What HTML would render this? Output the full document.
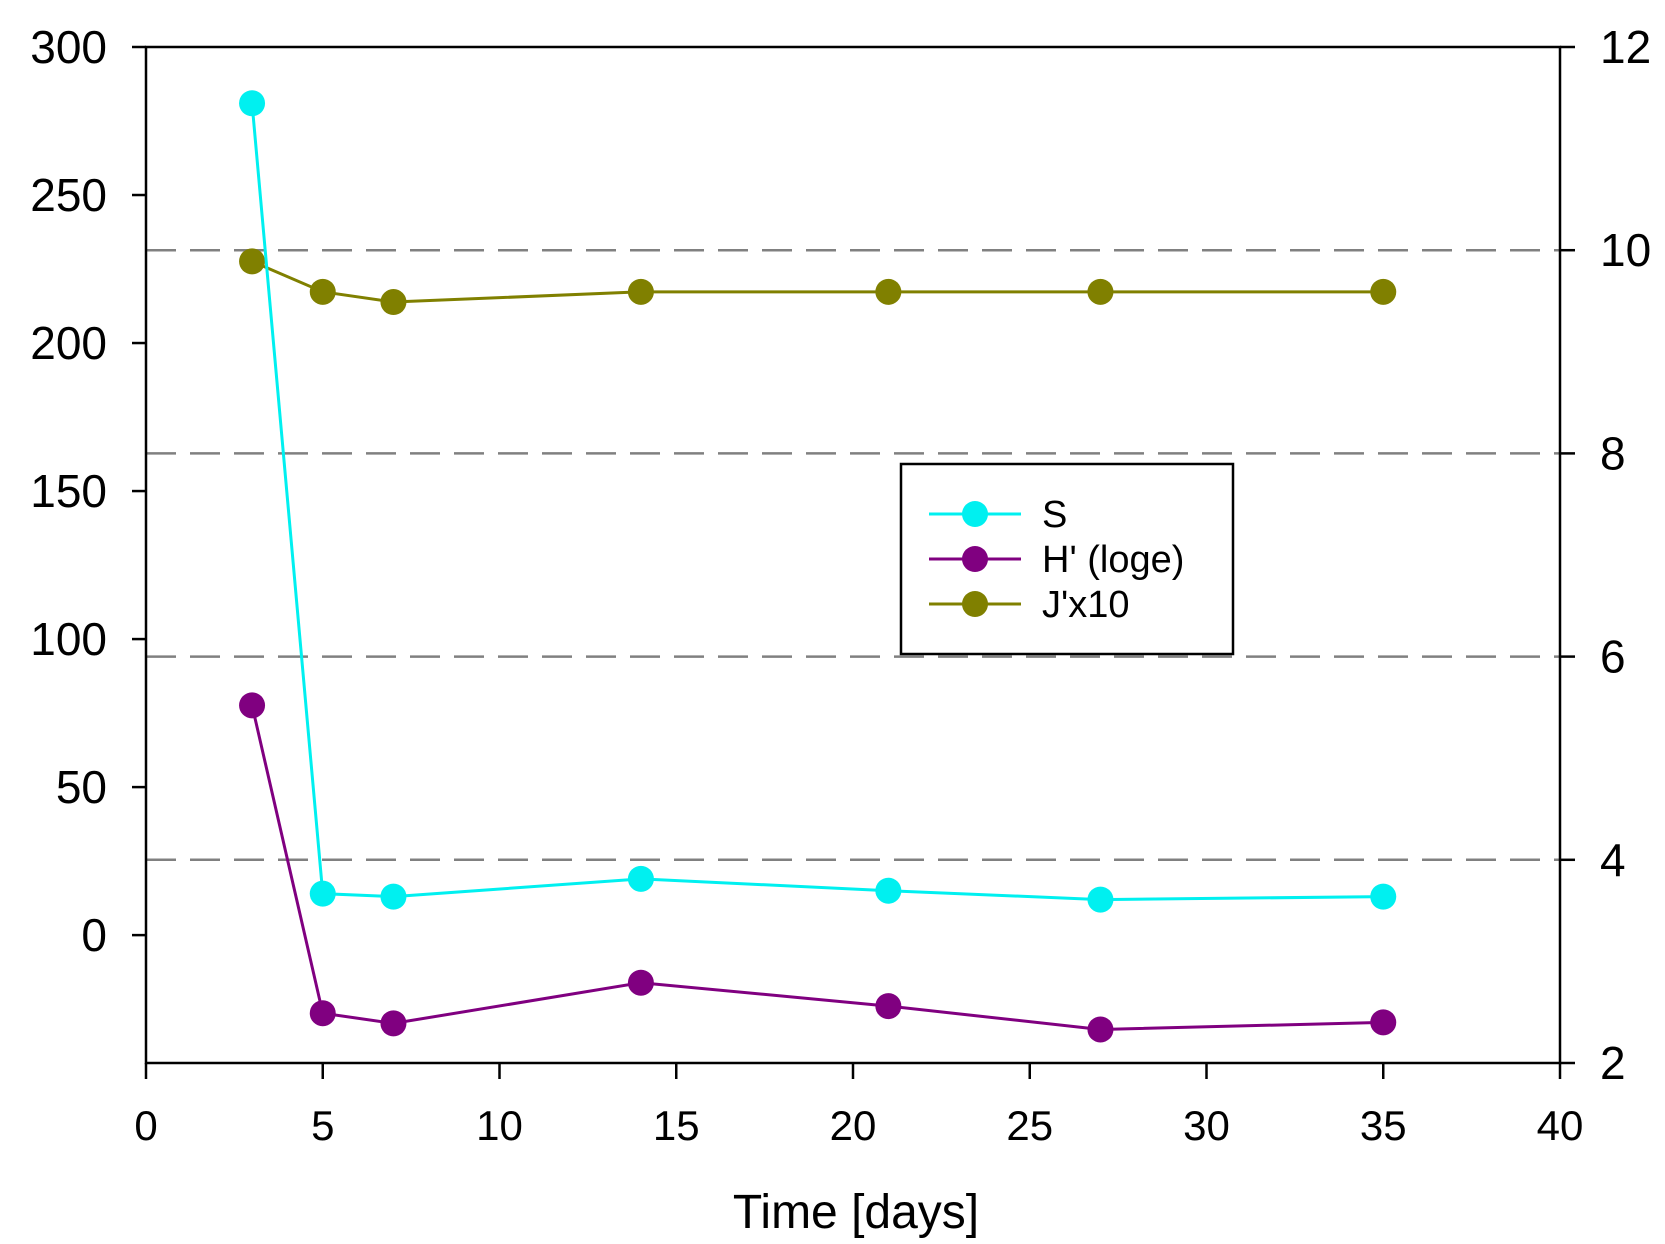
<!DOCTYPE html>
<html><head><meta charset="utf-8"><style>
html,body{margin:0;padding:0;background:#fff}
svg{display:block;font-family:"Liberation Sans",Arial,sans-serif}
</style></head><body>
<svg id="chart" width="1665" height="1244" viewBox="0 0 1665 1244" xmlns="http://www.w3.org/2000/svg"></svg>
<script>
const days = [3, 5, 7, 14, 21, 27, 35];
const sValues = [281, 14, 13, 19, 15, 12, 13];
const hValues = [5.52, 2.49, 2.39, 2.79, 2.56, 2.33, 2.40];
const jValues = [9.89, 9.59, 9.49, 9.59, 9.59, 9.59, 9.59];
const xTicks = [0, 5, 10, 15, 20, 25, 30, 35, 40];
const yLeftTicks = [0, 50, 100, 150, 200, 250, 300];
const yRightTicks = [2, 4, 6, 8, 10, 12];
const gridValues = [4, 6, 8, 10];

const L = 146, R = 1560, T = 47, B = 1063;
const leftMin = -43.2, leftMax = 300;
const xs = d => L + (d - 0) / 40 * (R - L);
const yl = v => B - (v - leftMin) / (leftMax - leftMin) * (B - T);
const yr = v => B - (v - 2) / 10 * (B - T);
const svg = document.getElementById('chart');
const NS = 'http://www.w3.org/2000/svg';
function mk(tag, attrs, parent) {
  const e = document.createElementNS(NS, tag);
  for (const k in attrs) e.setAttribute(k, attrs[k]);
  (parent || svg).appendChild(e);
  return e;
}
gridValues.forEach(v => {
  const g = mk('line', {x1: L, x2: R, y1: yr(v), y2: yr(v), stroke: '#808080', 'stroke-width': 2.5, 'stroke-dasharray': '30,14'});
  
  
});
const ax = mk('path', {d: `M${L},${T}H${R}V${B}H${L}Z`, fill: 'none', stroke: '#000', 'stroke-width': 2.5});


xTicks.forEach(t => {
  const x = xs(t);
  const tk = mk('line', {x1: x, x2: x, y1: B, y2: B + 16, stroke: '#000', 'stroke-width': 2.5});
  
  
  const tx = mk('text', {x: x, y: 1140, 'font-size': 42, 'text-anchor': 'middle'});
  tx.textContent = t;
  
  
});
yLeftTicks.forEach(t => {
  const y = yl(t);
  const tk = mk('line', {x1: L - 14, x2: L, y1: y, y2: y, stroke: '#000', 'stroke-width': 2.5});
  
  
  const tx = mk('text', {x: 107, y: y + 16, 'font-size': 46, 'text-anchor': 'end'});
  tx.textContent = t;
  
  
});
yRightTicks.forEach(t => {
  const y = yr(t);
  const tk = mk('line', {x1: R, x2: R + 15, y1: y, y2: y, stroke: '#000', 'stroke-width': 2.5});
  
  
  const tx = mk('text', {x: 1600, y: y + 16, 'font-size': 46, 'text-anchor': 'start'});
  tx.textContent = t;
  
  
});
const xt = mk('text', {x: 856, y: 1228, 'font-size': 48, 'text-anchor': 'middle'});
xt.textContent = 'Time [days]';



function series(name, vals, yf, color) {
  const g = mk('g', {});
  
  
  const pts = days.map((d, i) => xs(d) + ',' + yf(vals[i])).join(' ');
  const pl = mk('polyline', {points: pts, fill: 'none', stroke: color, 'stroke-width': 3}, g);
  
  
  days.forEach((d, i) => {
    const c = mk('circle', {cx: xs(d), cy: yf(vals[i]), r: 13, fill: color}, g);
    
    
  });
}
series('j', jValues, yr, '#808000');
series('h', hValues, yr, '#800080');
series('s', sValues, yl, '#00f0f0');

const lg = mk('g', {});


const lb = mk('rect', {x: 901, y: 464, width: 332, height: 190, fill: '#fff', stroke: '#000', 'stroke-width': 2.5}, lg);


[['S', '#00f0f0', 514], ["H' (loge)", '#800080', 559], ["J'x10", '#808000', 604]].forEach(([lab, col, y]) => {
  const e = mk('g', {}, lg);
  
  
  mk('line', {x1: 929, x2: 1021, y1: y, y2: y, stroke: col, 'stroke-width': 3}, e);
  mk('circle', {cx: 975, cy: y, r: 13, fill: col}, e);
  const t = mk('text', {x: 1042, y: y + 13, 'font-size': 38}, e);
  t.textContent = lab;
});
</script>
</body></html>
